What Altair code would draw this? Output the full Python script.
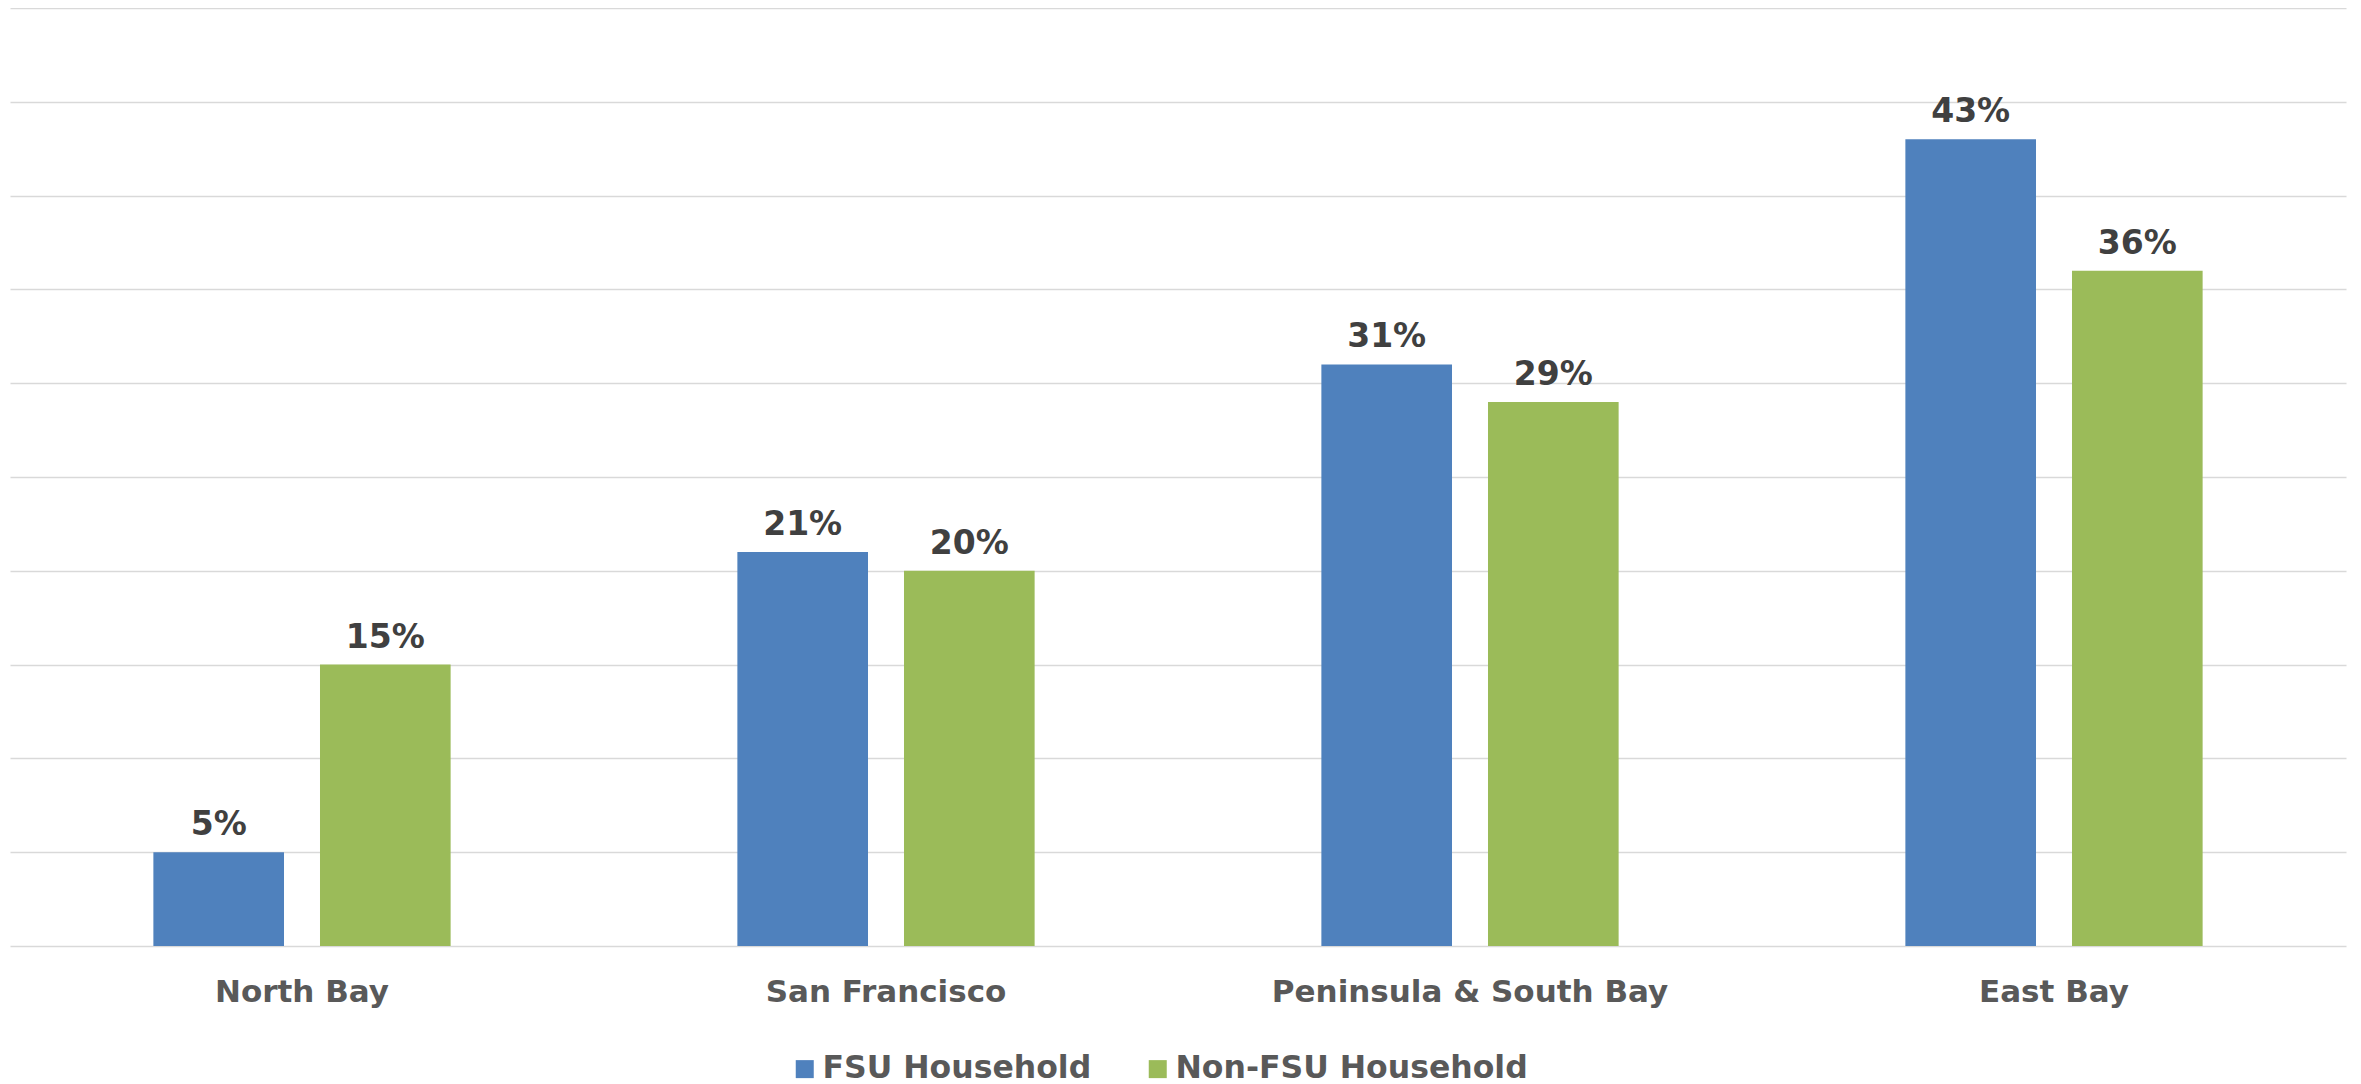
import altair as alt
import pandas as pd

regions = ["North Bay", "San Francisco", "Peninsula & South Bay", "East Bay"]
series = ["FSU Household", "Non-FSU Household"]
fsu = [5, 21, 31, 43]
non_fsu = [15, 20, 29, 36]
colors = ["#4f81bd", "#9bbb59"]
y_ticks = [0, 5, 10, 15, 20, 25, 30, 35, 40, 45, 50]

rows = []
for i, r in enumerate(regions):
    rows.append({"region": r, "series": series[0], "value": fsu[i], "label": f"{fsu[i]}%"})
    rows.append({"region": r, "series": series[1], "value": non_fsu[i], "label": f"{non_fsu[i]}%"})
df = pd.DataFrame(rows)

FONT = "DejaVu Sans"

x = alt.X("region:N", sort=regions, title=None,
          scale=alt.Scale(paddingInner=0.491, paddingOuter=0.2455),
          axis=alt.Axis(labelAngle=0, labelFont=FONT, labelFontWeight="bold",
                        labelFontSize=31, labelColor="#595959", ticks=False, tickSize=0,
                        domain=False, grid=False, labelBaseline="alphabetic",
                        labelPadding=55, labelLimit=1000))
xo = alt.XOffset("series:N", sort=series, scale=alt.Scale(paddingInner=0.216, paddingOuter=0))
y = alt.Y("value:Q", title=None,
          scale=alt.Scale(domain=[0, 50], nice=False),
          axis=alt.Axis(values=y_ticks, labels=False, ticks=False, domain=False,
                        grid=True, gridColor="#d9d9d9", gridWidth=1.5))

base = alt.Chart(df)

bars = base.mark_bar().encode(
    x=x, xOffset=xo, y=y,
    color=alt.Color("series:N", sort=series,
                    scale=alt.Scale(domain=series, range=colors),
                    legend=alt.Legend(title=None, orient="none", direction="horizontal",
                                      legendX=779, legendY=1045,
                                      symbolType="square", symbolSize=324,
                                      symbolStrokeWidth=0, labelFont=FONT,
                                      labelFontWeight="bold", labelFontSize=31.5,
                                      labelColor="#595959", labelOffset=2,
                                      columnPadding=50, labelLimit=800)),
)

labels = base.mark_text(font=FONT, fontWeight="bold", fontSize=33, color="#404040",
                        baseline="alphabetic", dy=-17).encode(
    x=x, xOffset=xo, y=y, text="label:N"
)

chart = (bars + labels).properties(
    width=2336, height=938,
    autosize=alt.AutoSizeParams(type="none"),
    padding={"left": 2, "top": 0, "right": 5, "bottom": 138},
).configure_view(stroke=None)

chart.save("out.html", embed_options={"renderer": "svg", "actions": False})
